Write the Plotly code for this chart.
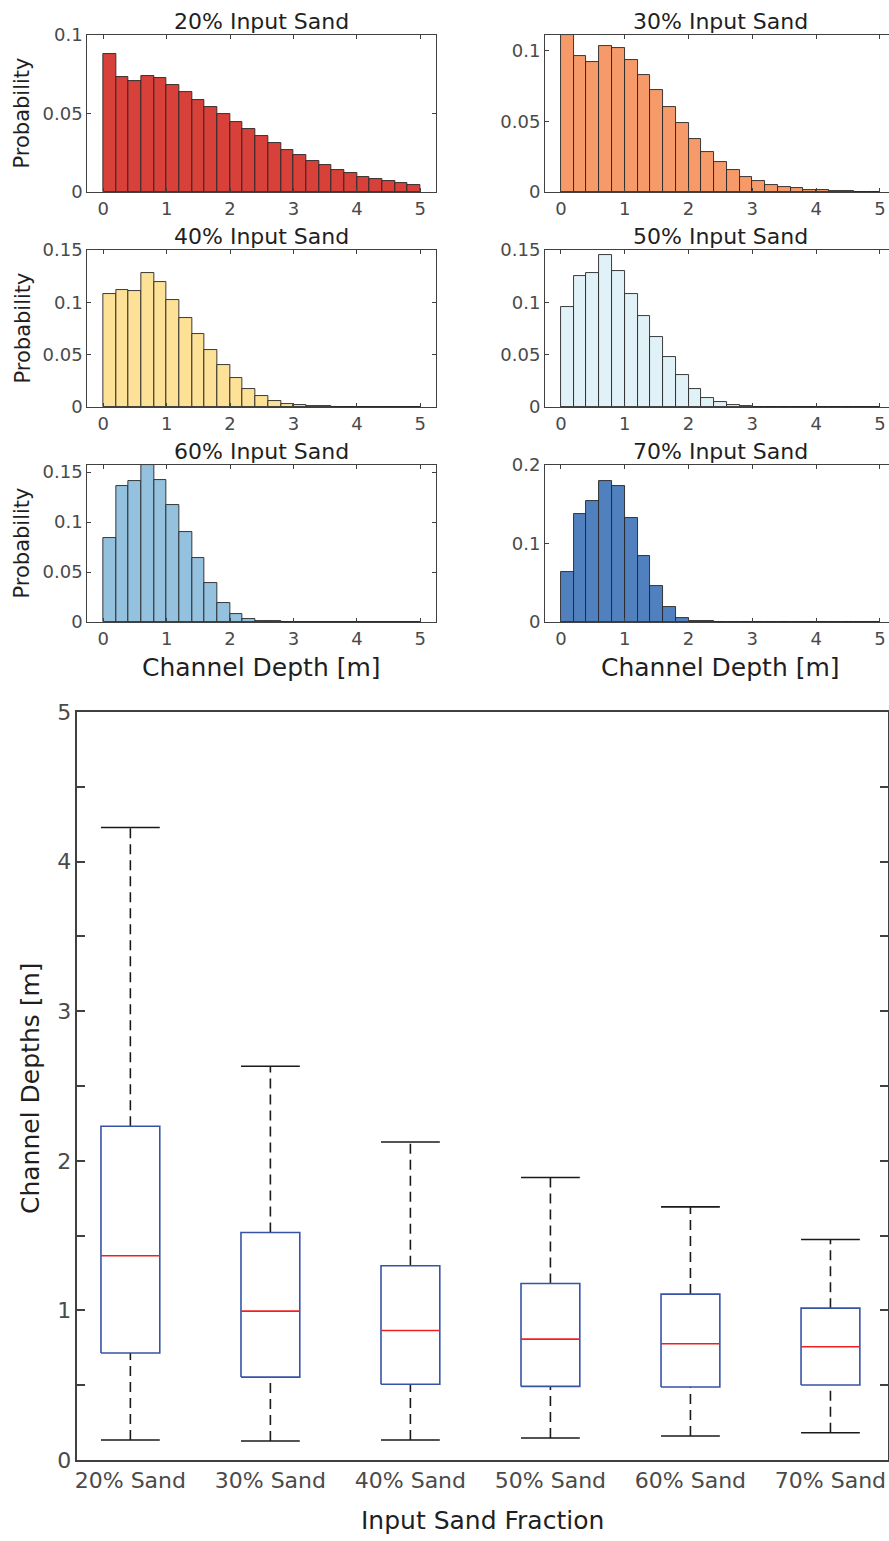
import numpy as np
import plotly.graph_objects as go

# ---------------- data ----------------
BIN_EDGES = [0.0, 0.2, 0.4, 0.6, 0.8, 1.0, 1.2, 1.4, 1.6, 1.8, 2.0, 2.2, 2.4, 2.6,
             2.8, 3.0, 3.2, 3.4, 3.6, 3.8, 4.0, 4.2, 4.4, 4.6, 4.8, 5.0]

PROB_20 = [0.0881, 0.0734, 0.0709, 0.0740, 0.0728, 0.0683, 0.0634, 0.0589, 0.0543,
           0.0494, 0.0447, 0.0400, 0.0355, 0.0311, 0.0268, 0.0234, 0.0198, 0.0170,
           0.0140, 0.0119, 0.0098, 0.0083, 0.0068, 0.0057, 0.0047]
PROB_30 = [0.1108, 0.0960, 0.0922, 0.1031, 0.1017, 0.0934, 0.0828, 0.0719, 0.0601,
           0.0486, 0.0377, 0.0285, 0.0210, 0.0153, 0.0106, 0.0075, 0.0052, 0.0035,
           0.0026, 0.0017, 0.0012, 0.0007, 0.0005, 0.0003, 0.0002]
PROB_40 = [0.1082, 0.1120, 0.1111, 0.1277, 0.1197, 0.1025, 0.0852, 0.0696, 0.0546,
           0.0402, 0.0274, 0.0172, 0.0102, 0.0057, 0.0032, 0.0016, 0.0009, 0.0005,
           0.0003, 0.0002, 0.0002, 0.0001, 0.0001, 0.0001, 0.0001]
PROB_50 = [0.0958, 0.1251, 0.1280, 0.1452, 0.1299, 0.1079, 0.0868, 0.0667, 0.0479,
           0.0310, 0.0176, 0.0089, 0.0045, 0.0019, 0.0010, 0.0003, 0.0001, 0.0001,
           0.0001, 0.0001, 0.0001, 0.0001, 0.0001, 0.0001, 0.0001]
PROB_60 = [0.0840, 0.1360, 0.1410, 0.1567, 0.1417, 0.1173, 0.0900, 0.0640, 0.0387,
           0.0190, 0.0083, 0.0030, 0.0013, 0.0007, 0.0003, 0.0001, 0.0001, 0.0001,
           0.0001, 0.0001, 0.0001, 0.0001, 0.0001, 0.0001, 0.0001]
PROB_70 = [0.0631, 0.1377, 0.1547, 0.1801, 0.1729, 0.1331, 0.0839, 0.0458, 0.0186,
           0.0051, 0.0017, 0.0008, 0.0004, 0.0001, 0.0001, 0.0001, 0.0001, 0.0001,
           0.0001, 0.0001, 0.0001, 0.0001, 0.0001, 0.0001, 0.0001]

HIST_TITLES = ["20% Input Sand", "30% Input Sand", "40% Input Sand",
               "50% Input Sand", "60% Input Sand", "70% Input Sand"]
HIST_COLORS = ["#d8413a", "#f59a68", "#fde196", "#e0f2f7", "#94c1dd", "#5080bd"]
HIST_YMAX = [0.1, 0.111, 0.15, 0.15, 0.157, 0.2]
HIST_YTICKS = [[0, 0.05, 0.1], [0, 0.05, 0.1], [0, 0.05, 0.1, 0.15],
               [0, 0.05, 0.1, 0.15], [0, 0.05, 0.1, 0.15], [0, 0.1, 0.2]]
HIST_YTICKTEXT = [["0", "0.05", "0.1"], ["0", "0.05", "0.1"], ["0", "0.05", "0.1", "0.15"],
                  ["0", "0.05", "0.1", "0.15"], ["0", "0.05", "0.1", "0.15"], ["0", "0.1", "0.2"]]
HIST_XTICKS = [0, 1, 2, 3, 4, 5]

BOX_LABELS = ["20% Sand", "30% Sand", "40% Sand", "50% Sand", "60% Sand", "70% Sand"]
BOX_LOWER = [0.134, 0.127, 0.134, 0.147, 0.160, 0.182]
BOX_Q1 = [0.715, 0.554, 0.506, 0.492, 0.488, 0.501]
BOX_MEDIAN = [1.365, 0.995, 0.866, 0.808, 0.777, 0.757]
BOX_Q3 = [2.231, 1.521, 1.298, 1.180, 1.109, 1.015]
BOX_UPPER = [4.228, 2.632, 2.126, 1.888, 1.692, 1.474]
BOX_YTICKS = [0, 0.5, 1, 1.5, 2, 2.5, 3, 3.5, 4, 4.5, 5]
BOX_YTICKTEXT = ["0", "", "1", "", "2", "", "3", "", "4", "", "5"]

# ---------------- layout helpers ----------------
W, H = 889, 1536
FONT = "DejaVu Sans"
AX_COL = "#404040"
TICK_COL = "#4a4a4a"
TXT_COL = "#1f1f1f"


def px_x(p):
    return p / W


def px_y(p):
    return 1 - p / H


COL_X = [(87.3, 435.5), (545.0, 889.0)]
COL_XRANGE = [[-0.252, 5.24], [-0.25, 5.142]]
COL_TITLE_X = [261.4, 720.0]
ROW_Y = [(35.0, 192.0), (250.0, 407.0), (465.0, 622.0)]

fig = go.Figure()

edges = np.array(BIN_EDGES)
centers = (edges[:-1] + edges[1:]) / 2
widths = edges[1:] - edges[:-1]
all_probs = [PROB_20, PROB_30, PROB_40, PROB_50, PROB_60, PROB_70]

annotations = []
layout_axes = {}
for k in range(6):
    r, c = k // 2, k % 2
    idx = k + 1
    xa = "x" if idx == 1 else f"x{idx}"
    ya = "y" if idx == 1 else f"y{idx}"
    fig.add_trace(go.Bar(
        x=centers, y=all_probs[k], width=widths,
        marker=dict(color=HIST_COLORS[k], line=dict(color="#262626", width=0.9)),
        xaxis=xa, yaxis=ya, showlegend=False, hoverinfo="x+y"))
    xkey = "xaxis" if idx == 1 else f"xaxis{idx}"
    ykey = "yaxis" if idx == 1 else f"yaxis{idx}"
    layout_axes[xkey] = dict(
        domain=[px_x(COL_X[c][0]), px_x(COL_X[c][1])], anchor=ya,
        range=COL_XRANGE[c], tickvals=HIST_XTICKS, ticks="inside", ticklen=4,
        tickcolor=AX_COL, showline=True, linecolor=AX_COL, linewidth=1,
        mirror="ticks", showgrid=False, zeroline=False, automargin=False,
        tickfont=dict(family=FONT, size=18, color=TICK_COL))
    layout_axes[ykey] = dict(
        domain=[px_y(ROW_Y[r][1]), px_y(ROW_Y[r][0])], anchor=xa,
        range=[0, HIST_YMAX[k]], tickvals=HIST_YTICKS[k], ticktext=HIST_YTICKTEXT[k],
        ticks="inside", ticklen=4, tickcolor=AX_COL, showline=True,
        linecolor=AX_COL, linewidth=1, mirror=("ticks" if c == 0 else False),
        showgrid=False, zeroline=False, automargin=False,
        tickfont=dict(family=FONT, size=18, color=TICK_COL))
    annotations.append(dict(
        text=HIST_TITLES[k], x=px_x(COL_TITLE_X[c]), y=px_y(ROW_Y[r][0]),
        xref="paper", yref="paper", xanchor="center", yanchor="bottom",
        showarrow=False, yshift=-1, font=dict(family=FONT, size=22, color=TXT_COL)))
    if c == 0:
        annotations.append(dict(
            text="Probability", x=px_x(22), y=px_y((ROW_Y[r][0] + ROW_Y[r][1]) / 2),
            xref="paper", yref="paper", xanchor="center", yanchor="middle",
            textangle=-90, showarrow=False,
            font=dict(family=FONT, size=21, color=TXT_COL)))
    if r == 2:
        annotations.append(dict(
            text="Channel Depth [m]", x=px_x(COL_TITLE_X[c]), y=px_y(667),
            xref="paper", yref="paper", xanchor="center", yanchor="middle",
            showarrow=False, font=dict(family=FONT, size=25, color=TXT_COL)))

# ---------------- box plot (drawn from stats) ----------------
HALF_W = 0.21
pos = list(range(1, len(BOX_LABELS) + 1))
bx, by, mx, my, wx, wy, cx, cy = [], [], [], [], [], [], [], []
for i, p in enumerate(pos):
    bx += [p - HALF_W, p + HALF_W, p + HALF_W, p - HALF_W, p - HALF_W, None]
    by += [BOX_Q1[i], BOX_Q1[i], BOX_Q3[i], BOX_Q3[i], BOX_Q1[i], None]
    mx += [p - HALF_W, p + HALF_W, None]
    my += [BOX_MEDIAN[i], BOX_MEDIAN[i], None]
    wx += [p, p, None, p, p, None]
    wy += [BOX_Q3[i], BOX_UPPER[i], None, BOX_LOWER[i], BOX_Q1[i], None]
    cx += [p - HALF_W, p + HALF_W, None, p - HALF_W, p + HALF_W, None]
    cy += [BOX_UPPER[i], BOX_UPPER[i], None, BOX_LOWER[i], BOX_LOWER[i], None]

common = dict(xaxis="x7", yaxis="y7", mode="lines", showlegend=False, hoverinfo="skip")
fig.add_trace(go.Scatter(x=wx, y=wy, line=dict(color="#1a1a1a", width=1.6, dash="10px,6px"), **common))
fig.add_trace(go.Scatter(x=cx, y=cy, line=dict(color="#1a1a1a", width=1.6), **common))
fig.add_trace(go.Scatter(x=bx, y=by, line=dict(color="#3653a6", width=1.6), **common))
fig.add_trace(go.Scatter(x=mx, y=my, line=dict(color="#f02020", width=1.6), **common))

BOX_X = (77.3, 888.0)
BOX_Y = (712.0, 1460.0)
layout_axes["xaxis7"] = dict(
    domain=[px_x(BOX_X[0]), px_x(BOX_X[1])], anchor="y7",
    range=[0.621, 6.411], tickvals=pos, ticktext=BOX_LABELS, ticks="",
    showline=True, linecolor=AX_COL, linewidth=1.5, mirror=True,
    showgrid=False, zeroline=False, automargin=False,
    tickfont=dict(family=FONT, size=22, color=TICK_COL))
layout_axes["yaxis7"] = dict(
    domain=[px_y(BOX_Y[1]), px_y(BOX_Y[0])], anchor="x7",
    range=[0, 5], tickvals=BOX_YTICKS, ticktext=BOX_YTICKTEXT,
    ticks="inside", ticklen=8, tickcolor=AX_COL, tickwidth=1.5,
    showline=True, linecolor=AX_COL, linewidth=1.5, mirror="ticks",
    showgrid=False, zeroline=False, automargin=False,
    tickfont=dict(family=FONT, size=22, color=TICK_COL))
annotations.append(dict(
    text="Channel Depths [m]", x=px_x(30), y=px_y(1088), xref="paper", yref="paper",
    xanchor="center", yanchor="middle", textangle=-90, showarrow=False,
    font=dict(family=FONT, size=25, color=TXT_COL)))
annotations.append(dict(
    text="Input Sand Fraction", x=px_x(482.6), y=0, xref="paper", yref="paper",
    xanchor="center", yanchor="bottom", showarrow=False, borderpad=0,
    font=dict(family=FONT, size=25, color=TXT_COL)))

fig.update_layout(
    width=W, height=H, margin=dict(l=0, r=0, t=0, b=0, pad=0),
    paper_bgcolor="white", plot_bgcolor="white",
    bargap=0, annotations=annotations, showlegend=False,
    font=dict(family=FONT), **layout_axes)

fig.write_html("out.html")
